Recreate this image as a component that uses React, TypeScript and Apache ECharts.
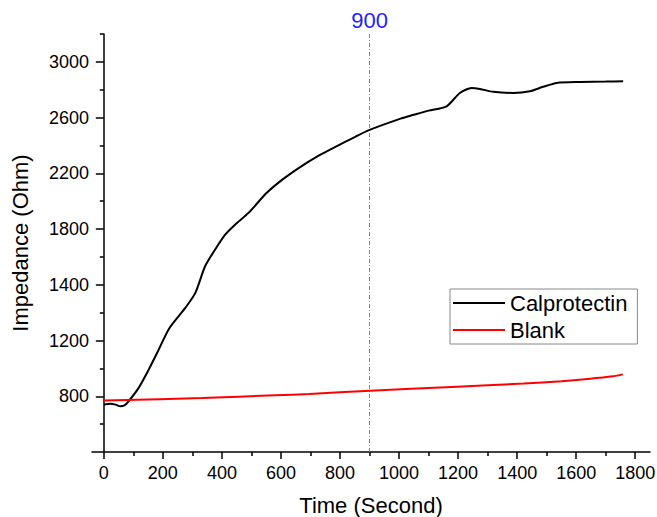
import React, { useEffect, useRef } from "react";
import * as echarts from "echarts";

// Calprotectin (black) — time in seconds, impedance on the plot's y scale
const calTime = [0, 22, 40, 56, 70, 84, 118, 152, 186, 219, 253, 276, 310, 343, 377, 411, 445, 490, 552, 608, 665, 722, 778, 850, 898, 1003, 1050, 1100, 1161, 1206, 1246, 1274, 1319, 1387, 1443, 1488, 1534, 1613, 1700, 1759];
const calImpedance = [540, 547, 540, 528, 535, 564, 660, 791, 935, 1078, 1174, 1234, 1342, 1533, 1653, 1760, 1832, 1916, 2060, 2160, 2245, 2320, 2383, 2460, 2510, 2591, 2620, 2650, 2681, 2777, 2813, 2806, 2785, 2777, 2789, 2821, 2849, 2856, 2859, 2861];

// Blank (red)
const blankTime = [0, 333, 580, 696, 902, 1179, 1422, 1550, 1639, 1724, 1758];
const blankImpedance = [569, 588, 607, 617, 640, 667, 691, 708, 724, 743, 757];

// Axis ticks
const xTicks = [0, 200, 400, 600, 800, 1000, 1200, 1400, 1600, 1800];
const xMinorTicks = [100, 300, 500, 700, 900, 1100, 1300, 1500, 1700];
const yTickValues = [600, 1000, 1400, 1800, 2200, 2600, 3000];
const yTickLabels = ["800", "1200", "1400", "1800", "2200", "2600", "3000"];
const yMinorTicks = [400, 800, 1200, 1600, 2000, 2400, 2800, 3200];

// Vertical marker at t = 900 s, spanning the whole y range
const markerTime = 900;
const yMin = 200;
const yMax = 3200;

const FONT = "'Liberation Sans', Arial, sans-serif";

export default function App() {
  const ref = useRef<HTMLDivElement>(null);
  useEffect(() => {
    document.body.style.margin = "0";
    const chart = echarts.init(ref.current!, null, { renderer: "svg" });
    const axisLineStyle = { color: "#000", width: 1.5 };
    const xCommon = { type: "value", min: -40, max: 1850, position: "bottom", splitLine: { show: false } };
    const yCommon = { type: "value", min: yMin, max: yMax, position: "left", offset: -8, splitLine: { show: false } };
    const markColor = "#7a7af2";
    chart.setOption({
      animation: false,
      textStyle: { fontFamily: FONT },
      grid: { left: 92, right: 7, top: 34, bottom: 65, containLabel: false, outerBoundsMode: "none" },
      legend: {
        orient: "vertical",
        left: 450,
        top: 289,
        padding: [3, 10, 3, 3],
        itemGap: 5,
        itemWidth: 52,
        itemHeight: 2,
        icon: "rect",
        borderColor: "#888",
        borderWidth: 1,
        textStyle: { fontSize: 22, color: "#000", fontFamily: FONT },
        data: ["Calprotectin", "Blank"],
      },
      xAxis: [
        {
          ...xCommon,
          name: "Time (Second)",
          nameLocation: "middle",
          nameGap: 42,
          nameTextStyle: { fontSize: 22, color: "#000", fontFamily: FONT },
          axisLine: { show: true, lineStyle: axisLineStyle },
          axisTick: { show: true, customValues: xTicks, length: 7, lineStyle: axisLineStyle },
          axisLabel: {
            customValues: xTicks,
            fontSize: 18,
            color: "#000",
            margin: 12,
            fontFamily: FONT,
            formatter: (v: number) => String(v),
          },
        },
        {
          ...xCommon,
          axisLine: { show: false },
          axisTick: { show: true, customValues: xMinorTicks, length: 4, lineStyle: axisLineStyle },
          axisLabel: { show: false },
        },
      ],
      yAxis: [
        {
          ...yCommon,
          name: "Impedance (Ohm)",
          nameLocation: "middle",
          nameGap: 69,
          nameTextStyle: { fontSize: 22, color: "#000", fontFamily: FONT },
          axisLine: { show: true, lineStyle: axisLineStyle },
          axisTick: { show: true, customValues: yTickValues, length: 8, lineStyle: axisLineStyle },
          axisLabel: {
            customValues: yTickValues,
            fontSize: 18,
            color: "#000",
            margin: 11,
            fontFamily: FONT,
            formatter: (v: number) => {
              const i = yTickValues.indexOf(v);
              return i >= 0 ? yTickLabels[i] : "";
            },
          },
        },
        {
          ...yCommon,
          axisLine: { show: false },
          axisTick: { show: true, customValues: yMinorTicks, length: 4, lineStyle: axisLineStyle },
          axisLabel: { show: false },
        },
      ],
      series: [
        {
          name: "marker",
          type: "line",
          xAxisIndex: 0,
          yAxisIndex: 0,
          data: [[markerTime, yMin], [markerTime, yMax]],
          showSymbol: false,
          silent: true,
          color: markColor,
          lineStyle: { color: markColor, width: 1, type: [4, 2, 1, 2] },
          markPoint: {
            silent: true,
            symbol: "circle",
            symbolSize: 0,
            itemStyle: { color: "rgba(0,0,0,0)" },
            data: [{ coord: [markerTime, yMax] }],
            label: {
              show: true,
              position: "top",
              formatter: String(markerTime),
              color: "#1f1fff",
              fontSize: 22,
              fontFamily: FONT,
              distance: 3,
            },
          },
        },
        {
          name: "Calprotectin",
          type: "line",
          xAxisIndex: 0,
          yAxisIndex: 0,
          data: calTime.map((t, i) => [t, calImpedance[i]]),
          showSymbol: false,
          smooth: 0.25,
          color: "#000",
          lineStyle: { color: "#000", width: 2 },
        },
        {
          name: "Blank",
          type: "line",
          xAxisIndex: 0,
          yAxisIndex: 0,
          data: blankTime.map((t, i) => [t, blankImpedance[i]]),
          showSymbol: false,
          smooth: 0.3,
          color: "#ff0000",
          lineStyle: { color: "#ff0000", width: 2 },
        },
      ],
    });
    return () => chart.dispose();
  }, []);
  return <div ref={ref} style={{ width: 657, height: 517 }} />;
}
